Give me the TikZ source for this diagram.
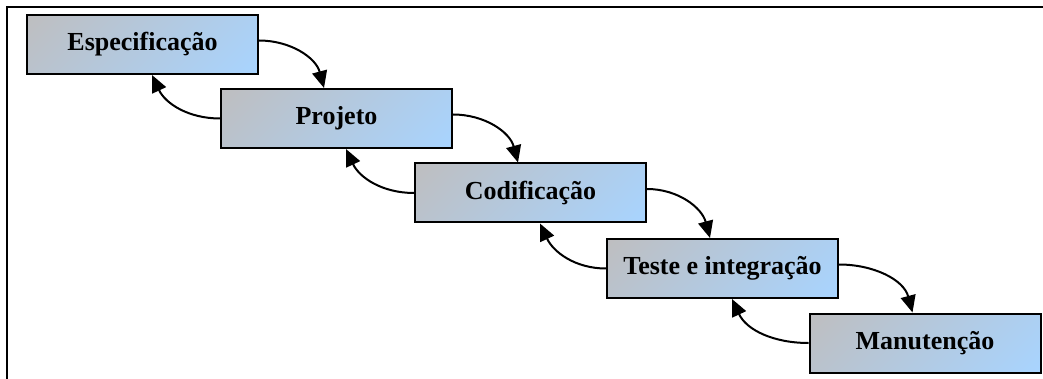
\documentclass[tikz,border=0pt]{standalone}
\usepackage{fontspec}
\setmainfont{Liberation Serif}
\usetikzlibrary{arrows.meta}

\definecolor{boxgray}{RGB}{190,190,192}
\definecolor{boxblue}{RGB}{168,212,255}
\pgfdeclareverticalshading{phasefill}{100bp}{color(0bp)=(boxblue); color(15bp)=(boxblue);
  color(85bp)=(boxgray); color(100bp)=(boxgray)}

\tikzset{
  phase/.style={draw, line width=2pt, minimum width=231pt, minimum height=59pt,
    shade, shading=phasefill, shading angle=45,
    font=\fontsize{26}{30}\selectfont\bfseries, inner sep=0pt},
  flow/.style={line width=2pt, -{Triangle[length=17pt,width=15pt]}}
}

\begin{document}
\begin{tikzpicture}[x=1pt, y=-1pt]
			\useasboundingbox (0, 0) rectangle (1043, 379);
			\draw[line width=2pt] (7, 379) -- (7, 7) -- (1043, 7);
			\node[phase] (spec) at (142.5, 44.5) {Especificação};
			\node[phase] (proj) at (336.5, 118.5) {Projeto};
			\node[phase] (cod) at (530.5, 193) {Codificação};
			\node[phase] (teste) at (722.5, 268.5) {Teste e integração};
			\node[phase] (manut) at (925, 343) {Manutenção};
			\draw[flow] ([yshift=4pt]spec.east) to[out=0, in=105] ([xshift=104pt]proj.north west);
			\draw[flow] ([yshift=4pt]proj.east) to[out=0, in=105] ([xshift=104pt]cod.north west);
			\draw[flow] ([yshift=4pt]cod.east) to[out=0, in=105] ([xshift=104pt]teste.north west);
			\draw[flow] ([yshift=4pt]teste.east) to[out=0, in=105] ([xshift=104pt]manut.north west);
			\draw[flow] (proj.west) to[out=180, in=-65] ([xshift=126pt]spec.south west);
			\draw[flow] (cod.west) to[out=180, in=-65] ([xshift=126pt]proj.south west);
			\draw[flow] (teste.west) to[out=180, in=-65] ([xshift=126pt]cod.south west);
			\draw[flow] (manut.west) to[out=180, in=-65] ([xshift=126pt]teste.south west);
			\end{tikzpicture}
\end{document}
